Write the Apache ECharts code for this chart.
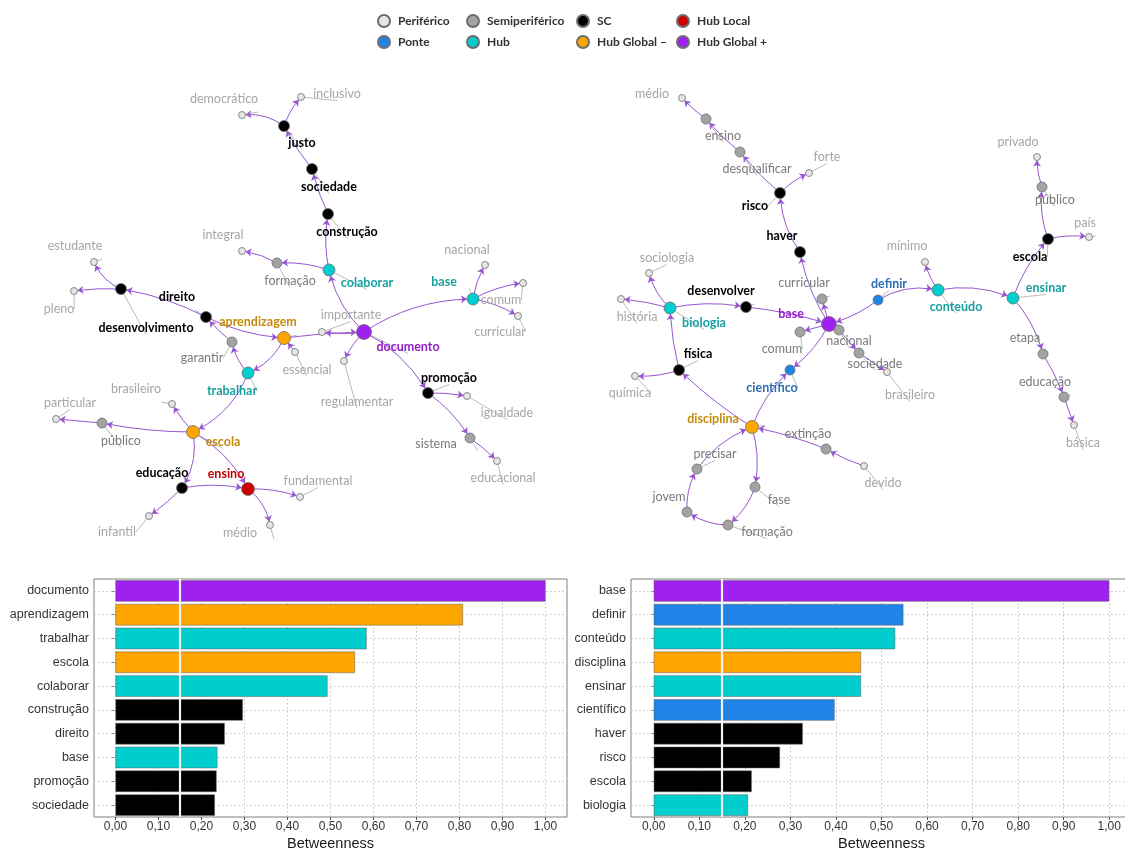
<!DOCTYPE html>
<html>
<head>
<meta charset="utf-8">
<script src="https://cdn.jsdelivr.net/npm/echarts@6/dist/echarts.min.js"></script>
<style>
  html, body { margin: 0; padding: 0; background: #ffffff; }
  #chart { width: 1125px; height: 852px; }
</style>
</head>
<body>
<div id="chart"></div>
<script>
// ---- Node roles ----
const roles = ['Periférico', 'Semiperiférico', 'SC', 'Hub Local', 'Ponte', 'Hub', 'Hub Global –', 'Hub Global +'];

// ---- Left network: terms and their roles ----
const leftNodes = [
  ['democrático', 'Periférico'], ['inclusivo', 'Periférico'], ['justo', 'SC'], ['sociedade', 'SC'],
  ['construção', 'SC'], ['colaborar', 'Hub'], ['formação', 'Semiperiférico'], ['integral', 'Periférico'],
  ['estudante', 'Periférico'], ['pleno', 'Periférico'], ['desenvolvimento', 'SC'], ['direito', 'SC'],
  ['aprendizagem', 'Hub Global –'], ['garantir', 'Semiperiférico'], ['essencial', 'Periférico'],
  ['importante', 'Periférico'], ['documento', 'Hub Global +'], ['regulamentar', 'Periférico'],
  ['base', 'Hub'], ['nacional', 'Periférico'], ['comum', 'Periférico'], ['curricular', 'Periférico'],
  ['promoção', 'SC'], ['igualdade', 'Periférico'], ['sistema', 'Semiperiférico'], ['educacional', 'Periférico'],
  ['trabalhar', 'Hub'], ['brasileiro', 'Periférico'], ['particular', 'Periférico'], ['público', 'Semiperiférico'],
  ['escola', 'Hub Global –'], ['educação', 'SC'], ['ensino', 'Hub Local'], ['fundamental', 'Periférico'],
  ['infantil', 'Periférico'], ['médio', 'Periférico']
];
// node layout of the left network
const leftLayout = {
  'democrático': [242, 115], 'inclusivo': [301, 97], 'justo': [284, 126], 'sociedade': [312, 169],
  'construção': [328, 214], 'colaborar': [329, 270], 'formação': [277, 263], 'integral': [242, 251],
  'estudante': [94, 262], 'pleno': [74, 291], 'desenvolvimento': [121, 289], 'direito': [206, 317],
  'aprendizagem': [284, 338], 'garantir': [232, 342], 'essencial': [295, 352], 'importante': [322, 332],
  'documento': [364, 332], 'regulamentar': [344, 361], 'base': [473, 299], 'nacional': [485, 265],
  'comum': [523, 283], 'curricular': [518, 316], 'promoção': [428, 393], 'igualdade': [467, 396],
  'sistema': [470, 438], 'educacional': [497, 461], 'trabalhar': [248, 373], 'brasileiro': [172, 404],
  'particular': [56, 419], 'público': [102, 423], 'escola': [193, 432], 'educação': [182, 488],
  'ensino': [248, 489], 'fundamental': [300, 497], 'infantil': [149, 516], 'médio': [270, 525]
};
const leftLinks = [
  ['justo', 'democrático'], ['justo', 'inclusivo'], ['sociedade', 'justo'], ['construção', 'sociedade'],
  ['colaborar', 'construção'], ['documento', 'colaborar'], ['colaborar', 'formação'], ['formação', 'integral'],
  ['aprendizagem', 'documento'], ['documento', 'importante'], ['documento', 'base'], ['base', 'nacional'],
  ['base', 'comum'], ['base', 'curricular'], ['documento', 'regulamentar'], ['documento', 'promoção'],
  ['promoção', 'igualdade'], ['promoção', 'sistema'], ['sistema', 'educacional'], ['aprendizagem', 'trabalhar'],
  ['essencial', 'aprendizagem'], ['direito', 'aprendizagem'], ['garantir', 'direito'], ['trabalhar', 'garantir'],
  ['direito', 'desenvolvimento'], ['desenvolvimento', 'estudante'], ['desenvolvimento', 'pleno'],
  ['trabalhar', 'escola'], ['escola', 'brasileiro'], ['escola', 'público'], ['público', 'particular'],
  ['escola', 'educação'], ['escola', 'ensino'], ['educação', 'ensino'], ['educação', 'infantil'],
  ['ensino', 'fundamental'], ['ensino', 'médio']
];
const leftBends = [
  -0.2, 0.1, 0.05, 0.05, 0.1, 0.15, -0.1, -0.1, 0.03, 0.08, 0.15, 0.1, 0.1, 0.1, -0.1, 0.15,
  0.05, 0.1, 0.05, 0.2, 0, -0.1, 0.05, 0.15, -0.08, 0.2, -0.05, 0.2, 0.05, 0.05, 0, 0.2, 0.15,
  0.1, 0.05, 0.1, 0.2
];
const leftLabelOffsets = {
  'justo': [18, 17], 'democrático': [-18, -16], 'inclusivo': [36, -3], 'sociedade': [17, 18],
  'construção': [19, 18], 'colaborar': [38, 13], 'formação': [13, 18], 'integral': [-19, -16],
  'base': [-29, -17], 'nacional': [-18, -15], 'comum': [-22, 17], 'curricular': [-18, 16],
  'importante': [29, -17], 'documento': [44, 15], 'aprendizagem': [-26, -16], 'essencial': [12, 18],
  'garantir': [-30, 16], 'direito': [-29, -20], 'desenvolvimento': [25, 39], 'estudante': [-19, -16],
  'pleno': [-15, 18], 'trabalhar': [-16, 18], 'regulamentar': [13, 41], 'promoção': [21, -15],
  'igualdade': [40, 17], 'sistema': [-34, 6], 'educacional': [6, 17], 'escola': [30, 10],
  'brasileiro': [-36, -15], 'particular': [14, -16], 'público': [19, 18], 'educação': [-20, -15],
  'ensino': [-22, -15], 'fundamental': [18, -16], 'infantil': [-32, 16], 'médio': [-30, 8]
};

// ---- Right network: terms and their roles ----
const rightNodes = [
  ['médio', 'Periférico'], ['ensino', 'Semiperiférico'], ['desqualificar', 'Semiperiférico'], ['forte', 'Periférico'],
  ['risco', 'SC'], ['haver', 'SC'], ['curricular', 'Semiperiférico'], ['sociologia', 'Periférico'],
  ['história', 'Periférico'], ['biologia', 'Hub'], ['desenvolver', 'SC'], ['base', 'Hub Global +'],
  ['nacional', 'Semiperiférico'], ['comum', 'Semiperiférico'], ['sociedade', 'Semiperiférico'],
  ['brasileiro', 'Periférico'], ['definir', 'Ponte'], ['científico', 'Ponte'], ['mínimo', 'Periférico'],
  ['conteúdo', 'Hub'], ['ensinar', 'Hub'], ['privado', 'Periférico'], ['público', 'Semiperiférico'],
  ['país', 'Periférico'], ['escola', 'SC'], ['etapa', 'Semiperiférico'], ['educação', 'Semiperiférico'],
  ['básica', 'Periférico'], ['física', 'SC'], ['química', 'Periférico'], ['disciplina', 'Hub Global –'],
  ['extinção', 'Semiperiférico'], ['devido', 'Periférico'], ['precisar', 'Semiperiférico'],
  ['fase', 'Semiperiférico'], ['jovem', 'Semiperiférico'], ['formação', 'Semiperiférico']
];
const rightLayout = {
  'médio': [682, 98], 'ensino': [706, 119], 'desqualificar': [740, 152], 'forte': [809, 173],
  'risco': [780, 193], 'haver': [800, 252], 'curricular': [822, 299], 'sociologia': [649, 273],
  'história': [621, 299], 'biologia': [670, 308], 'desenvolver': [746, 307], 'base': [829, 324],
  'nacional': [839, 330], 'comum': [800, 332], 'sociedade': [859, 353], 'brasileiro': [887, 372],
  'definir': [878, 300], 'científico': [790, 370], 'mínimo': [925, 262], 'conteúdo': [938, 290],
  'ensinar': [1013, 298], 'privado': [1037, 157], 'público': [1042, 187], 'país': [1089, 237],
  'escola': [1048, 239], 'etapa': [1043, 354], 'educação': [1064, 397], 'básica': [1074, 425],
  'física': [679, 370], 'química': [635, 376], 'disciplina': [752, 427], 'extinção': [826, 449],
  'devido': [864, 466], 'precisar': [697, 469], 'fase': [755, 487], 'jovem': [687, 512],
  'formação': [728, 525]
};
const rightLinks = [
  ['ensino', 'médio'], ['desqualificar', 'ensino'], ['risco', 'desqualificar'], ['risco', 'forte'],
  ['haver', 'risco'], ['base', 'haver'], ['base', 'curricular'], ['biologia', 'desenvolver'],
  ['desenvolver', 'base'], ['biologia', 'sociologia'], ['biologia', 'história'], ['física', 'biologia'],
  ['física', 'química'], ['disciplina', 'física'], ['disciplina', 'científico'], ['base', 'científico'],
  ['base', 'comum'], ['base', 'nacional'], ['nacional', 'sociedade'], ['sociedade', 'brasileiro'],
  ['definir', 'base'], ['definir', 'conteúdo'], ['conteúdo', 'mínimo'], ['conteúdo', 'ensinar'],
  ['ensinar', 'escola'], ['escola', 'público'], ['público', 'privado'], ['escola', 'país'],
  ['ensinar', 'etapa'], ['etapa', 'educação'], ['educação', 'básica'], ['disciplina', 'fase'],
  ['fase', 'formação'], ['formação', 'jovem'], ['jovem', 'precisar'], ['precisar', 'disciplina'],
  ['devido', 'extinção'], ['extinção', 'disciplina']
];
const rightBends = [
  0.05, 0.05, 0.05, 0.1, 0.15, 0.1, 0, 0.1, 0.05, 0.15, -0.05, 0.05, 0.1, 0.05, 0.12, 0.12,
  0, 0, 0, 0, 0.1, 0.2, 0.1, 0.15, 0.1, 0.12, 0.1, 0.1, 0.12, 0.05, 0, 0.12, 0.15, 0.15,
  0.15, 0.15, 0.05, -0.05
];
const rightLabelOffsets = {
  'médio': [-30, -4], 'ensino': [17, 17], 'desqualificar': [17, 17], 'forte': [18, -16],
  'risco': [-25, 13], 'haver': [-18, -16], 'curricular': [-18, -16], 'sociologia': [18, -15],
  'história': [16, 18], 'biologia': [34, 15], 'desenvolver': [-25, -16], 'base': [-38, -10],
  'nacional': [10, 11], 'comum': [-18, 17], 'sociedade': [16, 11], 'brasileiro': [23, 23],
  'definir': [11, -16], 'científico': [-18, 18], 'mínimo': [-18, -16], 'conteúdo': [18, 17],
  'ensinar': [33, -10], 'privado': [-19, -15], 'público': [13, 13], 'país': [-4, -14],
  'escola': [-18, 18], 'etapa': [-18, -16], 'educação': [-19, -15], 'básica': [9, 18],
  'devido': [19, 17], 'física': [19, -16], 'química': [-5, 17], 'disciplina': [-39, -8],
  'extinção': [-18, -15], 'precisar': [18, -15], 'fase': [24, 13], 'jovem': [-18, -15],
  'formação': [39, 7]
};

// ---- Betweenness bars ----
const leftBarTerms = ['documento', 'aprendizagem', 'trabalhar', 'escola', 'colaborar', 'construção', 'direito', 'base', 'promoção', 'sociedade'];
const leftBarValues = [1.00, 0.808, 0.584, 0.557, 0.493, 0.296, 0.254, 0.237, 0.235, 0.231];
const rightBarTerms = ['base', 'definir', 'conteúdo', 'disciplina', 'ensinar', 'científico', 'haver', 'risco', 'escola', 'biologia'];
const rightBarValues = [1.00, 0.548, 0.530, 0.455, 0.455, 0.397, 0.327, 0.277, 0.215, 0.207];
const xTicks = [0, 0.1, 0.2, 0.3, 0.4, 0.5, 0.6, 0.7, 0.8, 0.9, 1.0];
const cutoff = 0.15;

// ---- Styling per role ----
const roleColor = {
  'Periférico': '#e6e6e6', 'Semiperiférico': '#a3a3a3', 'SC': '#000000', 'Hub Local': '#cc0000',
  'Ponte': '#1e84e8', 'Hub': '#00cdcd', 'Hub Global –': '#ffa500', 'Hub Global +': '#a020f0'
};
const roleLabelColor = {
  'Periférico': '#a6a6a6', 'Semiperiférico': '#7a7a7a', 'SC': '#000000', 'Hub Local': '#c00000',
  'Ponte': '#2e6fb0', 'Hub': '#18a0a0', 'Hub Global –': '#c48a0a', 'Hub Global +': '#9420c8'
};
const roleLabelWeight = {
  'Periférico': 'normal', 'Semiperiférico': 'normal', 'SC': 'bold', 'Hub Local': 'bold',
  'Ponte': 'bold', 'Hub': 'bold', 'Hub Global –': 'bold', 'Hub Global +': 'bold'
};
const roleSize = {
  'Periférico': 7, 'Semiperiférico': 10, 'SC': 11, 'Hub Local': 13,
  'Ponte': 10, 'Hub': 12, 'Hub Global –': 13, 'Hub Global +': 15
};

const chart = echarts.init(document.getElementById('chart'), null, { renderer: 'canvas' });

function graphSeries(nodes, layout, offsets, links, bends) {
  return {
    type: 'graph',
    coordinateSystem: 'cartesian2d',
    xAxisIndex: 0,
    yAxisIndex: 0,
    layout: 'none',
    silent: true,
    animation: false,
    emphasis: { disabled: true },
    categories: roles.map(r => ({
      name: r,
      itemStyle: { color: roleColor[r], borderColor: '#6e6e6e', borderWidth: 0.8 }
    })),
    edgeSymbol: ['none', 'arrow'],
    edgeSymbolSize: [2, 6],
    lineStyle: { color: '#9656d2', width: 1, opacity: 1 },
    labelLine: { show: true, length2: 0, lineStyle: { color: '#9e9e9e', width: 0.7 } },
    data: nodes.map(([name, role]) => ({
      name: name,
      value: layout[name],
      category: roles.indexOf(role),
      symbolSize: roleSize[role],
      label: {
        show: true,
        position: 'inside',
        offset: offsets[name] || [0, 0],
        color: roleLabelColor[role],
        fontWeight: roleLabelWeight[role],
        fontSize: 12.5,
        fontFamily: 'Lato'
      }
    })),
    links: links.map(([s, t], i) => ({ source: s, target: t, lineStyle: { curveness: bends[i] } }))
  };
}

function roleOf(nodes, term) {
  const found = nodes.find(n => n[0] === term);
  return found ? found[1] : 'SC';
}

function guideSeries(terms, axisIdx) {
  return {
    type: 'scatter',
    xAxisIndex: axisIdx,
    yAxisIndex: axisIdx,
    symbolSize: 0,
    silent: true,
    z: 1,
    data: terms.map(t => [0, t]),
    markLine: {
      silent: true,
      z: 1,
      symbol: 'none',
      animation: false,
      label: { show: false },
      emphasis: { disabled: true },
      lineStyle: { type: [1.5, 2.5], color: '#c2c2c2', width: 1 },
      data: xTicks.map(v => ({ xAxis: v })).concat(terms.map(t => ({ yAxis: t })))
    }
  };
}

function barSeries(terms, values, nodes, axisIdx) {
  return {
    type: 'bar',
    xAxisIndex: axisIdx,
    yAxisIndex: axisIdx,
    barWidth: '90%',
    silent: true,
    z: 3,
    itemStyle: { borderColor: '#5e5e5e', borderWidth: 0.5 },
    data: values.map((v, i) => ({ value: v, itemStyle: { color: roleColor[roleOf(nodes, terms[i])] } })),
    markLine: {
      silent: true,
      z: 6,
      symbol: 'none',
      animation: false,
      label: { show: false },
      emphasis: { disabled: true },
      lineStyle: { type: 'solid', color: '#f2f2f2', width: 2.2 },
      data: [{ xAxis: cutoff }]
    }
  };
}

function valueAxis(gridIndex) {
  return {
    gridIndex: gridIndex,
    type: 'value',
    min: -0.05,
    max: 1.05,
    name: 'Betweenness',
    nameLocation: 'middle',
    nameGap: 19,
    nameTextStyle: { fontSize: 14.5, color: '#1a1a1a', fontFamily: 'Liberation Sans' },
    axisLine: { show: false },
    axisTick: { show: true, customValues: xTicks, length: 3, lineStyle: { color: '#555' } },
    axisLabel: {
      customValues: xTicks,
      fontSize: 12, color: '#333', margin: 4, fontFamily: 'Liberation Sans',
      formatter: v => v.toFixed(2).replace('.', ',')
    },
    splitLine: { show: false }
  };
}

function categoryAxis(gridIndex, terms) {
  return {
    gridIndex: gridIndex,
    type: 'category',
    data: terms,
    inverse: true,
    axisLine: { show: false },
    axisTick: { show: true, alignWithLabel: true, length: 3, lineStyle: { color: '#555' } },
    axisLabel: { fontSize: 12.5, color: '#333', margin: 5, fontFamily: 'Liberation Sans' },
    splitLine: { show: false }
  };
}

const legendBase = {
  orient: 'vertical',
  top: 14,
  padding: 0,
  itemGap: 7,
  itemWidth: 12,
  itemHeight: 12,
  icon: 'circle',
  selectedMode: false,
  textStyle: { fontFamily: 'Lato', fontWeight: 'bold', fontSize: 12, color: '#333', padding: [0, 0, 0, 3] }
};

chart.setOption({
  animation: false,
  backgroundColor: '#ffffff',
  textStyle: { fontFamily: 'Liberation Sans' },
  legend: [
    Object.assign({}, legendBase, { left: 377, data: ['Periférico', 'Ponte'] }),
    Object.assign({}, legendBase, { left: 466, data: ['Semiperiférico', 'Hub'] }),
    Object.assign({}, legendBase, { left: 576, data: ['SC', 'Hub Global –'] }),
    Object.assign({}, legendBase, { left: 676, data: ['Hub Local', 'Hub Global +'] })
  ],
  grid: [
    { left: 0, top: 0, width: 1125, height: 852, show: false, outerBoundsMode: 'none' },
    { left: 94, right: 558, top: 579, bottom: 35, show: true, borderColor: '#808080', borderWidth: 1, backgroundColor: 'transparent', outerBoundsMode: 'none' },
    { left: 631, right: -7, top: 579, bottom: 35, show: true, borderColor: '#808080', borderWidth: 1, backgroundColor: 'transparent', outerBoundsMode: 'none' }
  ],
  xAxis: [
    { gridIndex: 0, type: 'value', min: 0, max: 1125, show: false },
    valueAxis(1),
    valueAxis(2)
  ],
  yAxis: [
    { gridIndex: 0, type: 'value', min: 0, max: 852, inverse: true, show: false },
    categoryAxis(1, leftBarTerms),
    categoryAxis(2, rightBarTerms)
  ],
  series: [
    graphSeries(leftNodes, leftLayout, leftLabelOffsets, leftLinks, leftBends),
    graphSeries(rightNodes, rightLayout, rightLabelOffsets, rightLinks, rightBends),
    guideSeries(leftBarTerms, 1),
    guideSeries(rightBarTerms, 2),
    barSeries(leftBarTerms, leftBarValues, leftNodes, 1),
    barSeries(rightBarTerms, rightBarValues, rightNodes, 2)
  ]
});
</script>
</body>
</html>
